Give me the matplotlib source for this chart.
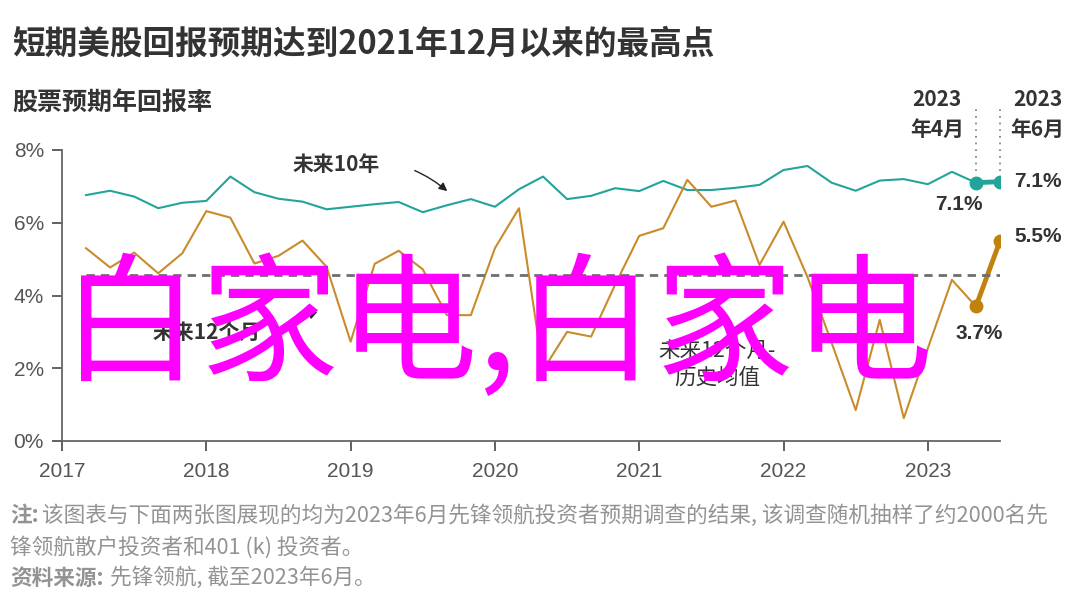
import numpy as np
import matplotlib.pyplot as plt
import pandas as pd

plt.rcParams['font.family'] = ['Noto Sans CJK SC', 'DejaVu Sans']

# bimonthly survey, Feb 2017 .. Jun 2023
dates = pd.date_range('2017-02-01', '2023-06-01', freq='2MS')

ten_year = [6.76, 6.88, 6.72, 6.40, 6.55, 6.60, 7.27, 6.84, 6.66, 6.58,
            6.37, 6.44, 6.51, 6.57, 6.29, 6.48, 6.65, 6.44, 6.92, 7.27,
            6.65, 6.74, 6.95, 6.87, 7.15, 6.90, 6.90, 6.96, 7.04, 7.45,
            7.56, 7.10, 6.88, 7.16, 7.20, 7.06, 7.40, 7.10, 7.13]
twelve_month = [5.30, 4.77, 5.18, 4.61, 5.16, 6.32, 6.14, 4.88, 5.09, 5.51,
                4.79, 2.73, 4.87, 5.23, 4.72, 3.46, 3.46, 5.30, 6.40, 1.95,
                3.00, 2.87, 4.30, 5.64, 5.85, 7.18, 6.44, 6.61, 4.84, 6.03,
                4.50, 2.70, 0.85, 3.33, 0.63, 2.55, 4.43, 3.70, 5.50]
hist_avg = 4.55

year_ticks = [2017, 2018, 2019, 2020, 2021, 2022, 2023]
pct_ticks = [0, 2, 4, 6, 8]

teal = '#23a49b'
gold = '#c98b2b'
gold_dark = '#c0820c'
dark = '#333333'
grey = '#939393'

x = dates.year + dates.month / 12

fig = plt.figure(figsize=(10.8, 6.09), dpi=100)
ax = fig.add_axes([62/1080, 1 - 441/609, (1000 - 62)/1080, (441 - 150)/609])

ax.plot(x, ten_year, color=teal, lw=1.5)
ax.plot(x, twelve_month, color=gold, lw=1.5)
ax.plot(x[-2:], ten_year[-2:], color=teal, lw=3.5, marker='o', ms=9)
ax.plot(x[-2:], twelve_month[-2:], color=gold_dark, lw=3.5, marker='o', ms=9)
ax.plot([x[0], x[-1]], [hist_avg, hist_avg], color='#6e6e6e', lw=2, ls=(0, (3, 2.2)))

# dotted markers for the last two surveys
for xv in x[-2:]:
    ax.plot([xv, xv], [7.42, 9.15], color='#777777', lw=1.2, ls=(0, (1, 3)), clip_on=False)

ax.set_xlim(2017, 2023.5)
ax.set_ylim(0, 8)
ax.set_xticks(year_ticks)
ax.set_xticklabels([str(y) for y in year_ticks], family=['Liberation Sans', 'DejaVu Sans'])
ax.set_yticks(pct_ticks)
ax.set_yticklabels([f'{p}%' for p in pct_ticks], family=['Liberation Sans', 'DejaVu Sans'])
ax.tick_params(labelsize=15, colors='#555555', length=7, width=1.3, pad=8)
ax.tick_params(axis='y', pad=6)
for s in ['top', 'right']:
    ax.spines[s].set_visible(False)
for s in ['left', 'bottom']:
    ax.spines[s].set_color('#666666')
    ax.spines[s].set_linewidth(1.3)

num = ['Liberation Sans', 'DejaVu Sans']
ax.text(x[-1] + 0.1, ten_year[-1], '7.1%', fontsize=15, weight='bold', color=dark,
        va='center', ha='left', family=num)
ax.text(x[-2] - 0.12, ten_year[-2] - 0.6, '7.1%', fontsize=15, weight='bold', color=dark,
        va='center', ha='center', family=num)
ax.text(x[-1] + 0.1, twelve_month[-1] + 0.12, '5.5%', fontsize=15, weight='bold', color=dark,
        va='center', ha='left', family=num)
ax.text(x[-2] + 0.02, twelve_month[-2] - 0.75, '3.7%', fontsize=15, weight='bold', color=dark,
        va='center', ha='center', family=num)

ax.text(x[-2] - 0.27, 8.98, '2023\n年4月', fontsize=15, weight='bold', color=dark,
        ha='center', va='center', linespacing=1.5, clip_on=False)
ax.text(x[-1] + 0.26, 8.98, '2023\n年6月', fontsize=15, weight='bold', color=dark,
        ha='center', va='center', linespacing=1.5, clip_on=False)

ax.annotate('未来10年', xy=(2019.67, 6.87), xytext=(2018.9, 7.6),
            fontsize=15, weight='bold', color=dark, ha='center', va='center',
            arrowprops=dict(arrowstyle='-|>', color='#222222', lw=1,
                            connectionstyle='arc3,rad=-0.25', shrinkA=24, shrinkB=0,
                            mutation_scale=12))
ax.annotate('未来12个月', xy=(2018.77, 3.55), xytext=(2018.0, 2.98),
            fontsize=15, weight='bold', color=dark, ha='center', va='center',
            arrowprops=dict(arrowstyle='-|>', color='#222222', lw=1,
                            connectionstyle='arc3,rad=0.1', shrinkA=32, shrinkB=0,
                            mutation_scale=12))
ax.text(2021.54, 2.1, '未来12个月-\n历史均值', fontsize=15.5, color=dark,
        ha='center', va='center', linespacing=1.3)

fig.text(12/1080, 1 - 44/609, '短期美股回报预期达到2021年12月以来的最高点',
         fontsize=23.5, weight='bold', color=dark, ha='left', va='center')
fig.text(12/1080, 1 - 103/609, '股票预期年回报率',
         fontsize=18, weight='bold', color=dark, ha='left', va='center')

fs = 15.6
fig.text(10/1080, 1 - 516/609, '注:', fontsize=fs, weight='bold', color=grey, va='center')
fig.text(42/1080, 1 - 516/609,
         '该图表与下面两张图展现的均为2023年6月先锋领航投资者预期调查的结果, 该调查随机抽样了约2000名先',
         fontsize=fs, color=grey, va='center')
fig.text(10/1080, 1 - 547/609, '锋领航散户投资者和401 (k) 投资者。',
         fontsize=fs, color=grey, va='center')
fig.text(10/1080, 1 - 578/609, '资料来源:', fontsize=fs, weight='bold', color=grey, va='center')
fig.text(110/1080, 1 - 578/609, '先锋领航, 截至2023年6月。',
         fontsize=fs, color=grey, va='center')

fig.text(497/1080, 1 - 330/609, '白家电,白家电', fontsize=100, color='#ff00ff',
         ha='center', va='center', zorder=10)

fig.savefig('out.png', dpi=100)
